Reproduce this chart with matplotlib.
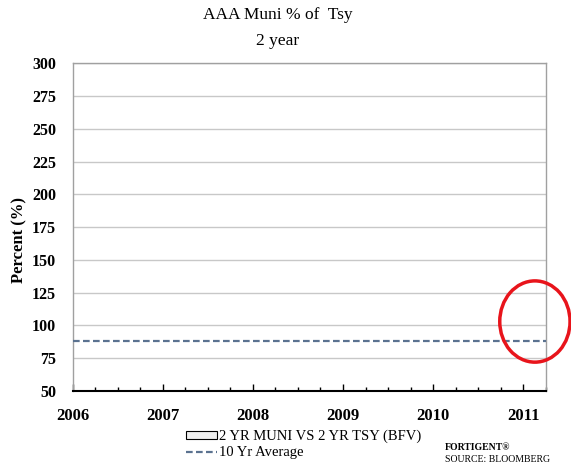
import matplotlib
matplotlib.use("Agg")
import matplotlib.pyplot as plt
import matplotlib.patches as patches
from matplotlib.lines import Line2D
from matplotlib.ticker import MultipleLocator

plt.rcParams['font.family'] = ['Liberation Serif', 'DejaVu Serif']

# 데이터
years = [2006, 2007, 2008, 2009, 2010, 2011]
y_ticks = [50, 75, 100, 125, 150, 175, 200, 225, 250, 275, 300]
avg_x = [2006.0, 2011.25]
avg_pct = [88, 88]
# 2 YR MUNI VS 2 YR TSY (BFV) 시리즈 - 그림에 값이 보이지 않음
muni_x = []
muni_pct = []
# 빨간 원 (강조 표시) 위치
circle_center = (2011.13, 103)

fig = plt.figure(figsize=(5.71, 4.76), dpi=100)
ax = fig.add_axes([0.1273, 0.1786, 0.8284, 0.6884])

ax.plot(muni_x, muni_pct, color='black')
ax.plot(avg_x, avg_pct, color='#5b7290', linewidth=1.6, linestyle=(0, (3, 1.5)), zorder=3)

ax.set_xlim(2006, 2011.25)
ax.set_ylim(50, 300)
ax.set_xticks(years)
ax.set_xticklabels([str(y) for y in years])
ax.xaxis.set_minor_locator(MultipleLocator(0.25))
ax.set_yticks(y_ticks)

ax.yaxis.grid(True, color='#c8c8c8', linewidth=1)
ax.set_axisbelow(True)

for side in ['left', 'top', 'right']:
    ax.spines[side].set_color('#a0a0a0')
    ax.spines[side].set_linewidth(1)
ax.spines['bottom'].set_color('black')
ax.spines['bottom'].set_linewidth(1.5)

ax.tick_params(axis='x', which='major', direction='in', length=5, width=1,
               pad=12, labelsize=12)
ax.tick_params(axis='x', which='minor', direction='in', length=3, width=1)
ax.tick_params(axis='y', length=0, pad=12, labelsize=11.5)
for lbl in ax.get_xticklabels() + ax.get_yticklabels():
    lbl.set_fontweight('bold')

ax.set_ylabel('Percent (%)', fontsize=12, fontweight='bold')
ax.yaxis.set_label_coords(-0.095, 0.46)

# 제목
fig.text(278 / 571, 1 - 15 / 476, 'AAA Muni % of  Tsy', ha='center', va='center', fontsize=12.5)
fig.text(278 / 571, 1 - 41 / 476, '2 year', ha='center', va='center', fontsize=12.5)

# 빨간 원
ell = patches.Ellipse(circle_center, 0.78, 62, fill=False, edgecolor='#e8141b',
                      linewidth=2.5, clip_on=False, zorder=5)
ax.add_patch(ell)

# 범례
handles = [
    patches.Patch(facecolor='#eeeeee', edgecolor='black', linewidth=0.8),
    Line2D([0], [0], color='#5b7290', linewidth=1.6, linestyle=(0, (3, 1.5))),
]
labels = ['2 YR MUNI VS 2 YR TSY (BFV)', '10 Yr Average']
fig.legend(handles, labels, loc='upper left', bbox_to_anchor=(186 / 571, 1 - 430 / 476),
           frameon=False, fontsize=10.5, handlelength=2.1, handleheight=0.5,
           handletextpad=0.15, labelspacing=0.2, borderpad=0, borderaxespad=0)

fig.text(445 / 571, 1 - 448 / 476, 'FORTIGENT\u00ae', fontsize=7, fontweight='bold',
         ha='left', va='center')
fig.text(445 / 571, 1 - 459 / 476, 'SOURCE: BLOOMBERG', fontsize=7,
         ha='left', va='center')

fig.savefig('out.png', dpi=100)
